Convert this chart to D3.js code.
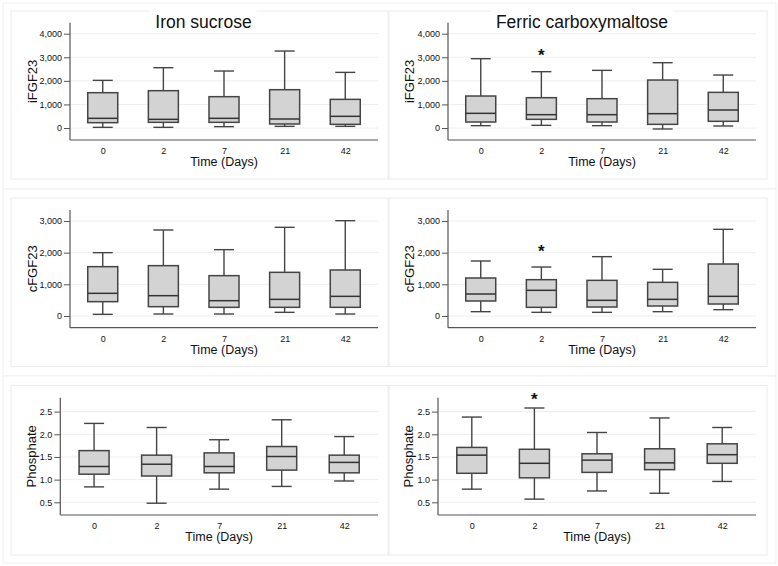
<!DOCTYPE html>
<html>
<head>
<meta charset="utf-8">
<script src="https://cdn.jsdelivr.net/npm/d3@7"></script>
<style>
  body { margin: 0; background: #fff; }
  svg text { font-family: "Liberation Sans", Arial, sans-serif; fill: #111; }
</style>
</head>
<body>
<div id="chart"></div>
<script>
// days on the x axis
const days = ["0", "2", "7", "21", "42"];

// five number summaries per day: [low whisker, q1, median, q3, high whisker]
const isIFGF23 = [[28, 226, 410, 1498, 2021], [28, 240, 367, 1583, 2558], [57, 240, 410, 1329, 2417], [70, 170, 382, 1625, 3265], [70, 155, 495, 1215, 2360]];
const fcmIFGF23 = [[99, 254, 622, 1357, 2940], [113, 367, 565, 1286, 2389], [99, 254, 565, 1244, 2445], [-42, 155, 608, 2035, 2770], [85, 283, 763, 1512, 2247]];
const isCFGF23 = [[53, 453, 716, 1558, 2000], [63, 295, 642, 1590, 2716], [63, 274, 484, 1274, 2095], [116, 274, 526, 1379, 2800], [63, 274, 621, 1453, 3010]];
const fcmCFGF23 = [[137, 474, 695, 1200, 1737], [116, 274, 811, 1147, 1547], [116, 284, 495, 1126, 1874], [137, 316, 526, 1063, 1474], [200, 379, 621, 1642, 2737]];
const isPhos = [[0.84, 1.12, 1.29, 1.64, 2.24], [0.48, 1.08, 1.34, 1.54, 2.15], [0.79, 1.15, 1.29, 1.59, 1.88], [0.85, 1.21, 1.51, 1.73, 2.32], [0.97, 1.15, 1.38, 1.54, 1.95]];
const fcmPhos = [[0.79, 1.14, 1.54, 1.71, 2.38], [0.57, 1.04, 1.36, 1.67, 2.58], [0.75, 1.16, 1.43, 1.57, 2.04], [0.70, 1.22, 1.37, 1.68, 2.36], [0.96, 1.36, 1.55, 1.79, 2.15]];

// significance stars (day, value where the star sits)
const starIFGF23 = ["2", 3200];
const starCFGF23 = ["2", 2120];
const starPhos = ["2", 2.83];

const fgfTicks4 = [0, 1000, 2000, 3000, 4000];
const fgfTicks3 = [0, 1000, 2000, 3000];
const phosTicks = [0.5, 1.0, 1.5, 2.0, 2.5];

const W = 778, H = 566;
const svg = d3.select("#chart").append("svg")
  .attr("width", W)
  .attr("height", H);

// row frames
const rows = [[3, 189], [189, 376], [376, 563]];
rows.forEach(r => {
  svg.append("rect")
    .attr("x", 3).attr("y", r[0])
    .attr("width", 773).attr("height", r[1] - r[0])
    .attr("fill", "#fff").attr("stroke", "#efefef").attr("stroke-width", 1);
});

function drawPanel(p) {
  // inner panel frame
  svg.append("rect")
    .attr("x", p.frame[0]).attr("y", p.frame[1])
    .attr("width", p.frame[2] - p.frame[0]).attr("height", p.frame[3] - p.frame[1])
    .attr("fill", "#fff").attr("stroke", "#ebebeb").attr("stroke-width", 1);

  const g = svg.append("g");

  const x = d3.scalePoint()
    .domain(days)
    .range([p.left, p.right])
    .padding(0.54);

  const y = d3.scaleLinear()
    .domain(p.domain)
    .range([p.bottom, p.top]);

  // grid
  g.selectAll(".grid")
    .data(p.ticks)
    .join("line")
    .attr("x1", p.left).attr("x2", p.right)
    .attr("y1", d => y(d)).attr("y2", d => y(d))
    .attr("stroke", "#eeeeee").attr("stroke-width", 1);

  // boxes
  const boxW = 30, capW = 20;
  const bx = g.selectAll(".box")
    .data(p.data.map((d, i) => ({day: days[i], v: d})))
    .join("g");

  bx.append("line")
    .attr("x1", d => x(d.day)).attr("x2", d => x(d.day))
    .attr("y1", d => y(d.v[0])).attr("y2", d => y(d.v[4]))
    .attr("stroke", "#444").attr("stroke-width", 1.4);
  bx.append("line")
    .attr("x1", d => x(d.day) - capW / 2).attr("x2", d => x(d.day) + capW / 2)
    .attr("y1", d => y(d.v[4])).attr("y2", d => y(d.v[4]))
    .attr("stroke", "#444").attr("stroke-width", 1.4);
  bx.append("line")
    .attr("x1", d => x(d.day) - capW / 2).attr("x2", d => x(d.day) + capW / 2)
    .attr("y1", d => y(d.v[0])).attr("y2", d => y(d.v[0]))
    .attr("stroke", "#444").attr("stroke-width", 1.4);
  bx.append("rect")
    .attr("x", d => x(d.day) - boxW / 2)
    .attr("width", boxW)
    .attr("y", d => y(d.v[3]))
    .attr("height", d => y(d.v[1]) - y(d.v[3]))
    .attr("fill", "#d3d3d3").attr("stroke", "#444").attr("stroke-width", 1.5);
  bx.append("line")
    .attr("x1", d => x(d.day) - boxW / 2).attr("x2", d => x(d.day) + boxW / 2)
    .attr("y1", d => y(d.v[2])).attr("y2", d => y(d.v[2]))
    .attr("stroke", "#333").attr("stroke-width", 1.5);

  // axes
  const yAxis = g.append("g")
    .attr("transform", "translate(" + p.left + ",0)")
    .call(d3.axisLeft(y).tickValues(p.ticks).tickFormat(p.fmt).tickSize(6).tickPadding(2));
  yAxis.select(".domain").attr("d", "M0," + p.top + "V" + p.bottom);

  const xAxis = g.append("g")
    .attr("transform", "translate(0," + p.bottom + ")")
    .call(d3.axisBottom(x).tickSize(0).tickPadding(8));
  xAxis.select(".domain").attr("d", "M" + p.left + ",0H" + p.right);

  g.selectAll(".domain").attr("stroke", "#555").attr("stroke-width", 1.2);
  g.selectAll(".tick line").attr("stroke", "#555");
  g.selectAll(".tick text").attr("font-size", 9).attr("fill", "#111")
    .attr("font-family", "Liberation Sans, Arial, sans-serif");

  // labels
  g.append("text")
    .attr("x", (p.left + p.right) / 2)
    .attr("y", p.bottom + 26)
    .attr("text-anchor", "middle")
    .attr("font-size", 12.5)
    .text("Time (Days)");

  g.append("text")
    .attr("transform", "translate(" + p.ylabX + "," + (p.top + p.bottom) / 2 + ") rotate(-90)")
    .attr("text-anchor", "middle")
    .attr("dy", "0.35em")
    .attr("font-size", 13)
    .text(p.ylab);

  if (p.star) {
    g.append("text")
      .attr("x", x(p.star[0]))
      .attr("y", y(p.star[1]) + 8)
      .attr("text-anchor", "middle")
      .attr("font-size", 17)
      .attr("font-weight", "bold")
      .text("*");
  }

  if (p.title) {
    const cx = (p.frame[0] + p.frame[2]) / 2 + 4;
    const bg = svg.append("rect").attr("fill", "#fff");
    const t = svg.append("text")
      .attr("x", cx).attr("y", 27.5)
      .attr("text-anchor", "middle")
      .attr("font-size", 17.5)
      .text(p.title);
    const bb = t.node().getBBox();
    bg.attr("x", bb.x - 5).attr("y", 6)
      .attr("width", bb.width + 10).attr("height", 10);
  }
}

const fmtK = d3.format(",");
const fmtP = d3.format(".1f");

const panels = [
  {frame: [11, 11, 388, 179], left: 70, right: 378, top: 22.7, bottom: 140, domain: [-509, 4467],
   ticks: fgfTicks4, fmt: fmtK, data: isIFGF23, ylab: "iFGF23", ylabX: 32.5, title: "Iron sucrose"},
  {frame: [389, 11, 767, 179], left: 448, right: 756, top: 22.7, bottom: 140, domain: [-509, 4467],
   ticks: fgfTicks4, fmt: fmtK, data: fcmIFGF23, ylab: "iFGF23", ylabX: 409, title: "Ferric carboxymaltose", star: starIFGF23},
  {frame: [11, 198, 388, 366.5], left: 70, right: 378, top: 210, bottom: 327.7, domain: [-369, 3347],
   ticks: fgfTicks3, fmt: fmtK, data: isCFGF23, ylab: "cFGF23", ylabX: 32.5},
  {frame: [389, 198, 767, 366.5], left: 448, right: 756, top: 210, bottom: 327.7, domain: [-369, 3347],
   ticks: fgfTicks3, fmt: fmtK, data: fcmCFGF23, ylab: "cFGF23", ylabX: 409, star: starCFGF23},
  {frame: [11, 385.5, 388, 555], left: 60.3, right: 378, top: 397.7, bottom: 515, domain: [0.22, 2.807],
   ticks: phosTicks, fmt: fmtP, data: isPhos, ylab: "Phosphate", ylabX: 31},
  {frame: [389, 385.5, 767, 555], left: 438, right: 756, top: 397.7, bottom: 515, domain: [0.22, 2.807],
   ticks: phosTicks, fmt: fmtP, data: fcmPhos, ylab: "Phosphate", ylabX: 408, star: starPhos}
];

panels.forEach(drawPanel);
</script>
</body>
</html>
